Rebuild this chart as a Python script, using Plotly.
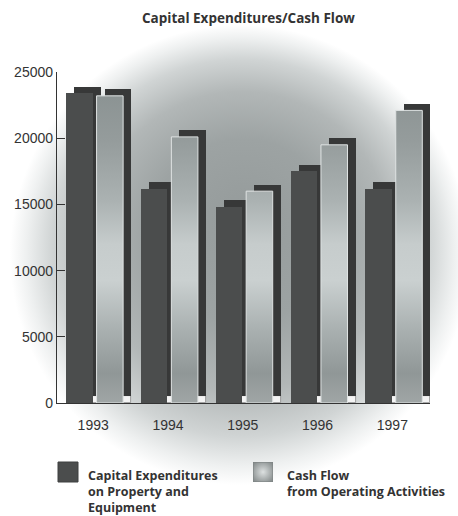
import base64
import plotly.graph_objects as go

# ---- data ----
years = ["1993", "1994", "1995", "1996", "1997"]
capex = [23400, 16200, 14800, 17500, 16200]      # Capital expenditures on property and equipment
cash_flow = [23200, 20100, 16000, 19500, 22100]  # Cash flow from operating activities
y_ticks = [0, 5000, 10000, 15000, 20000, 25000]

# ---- geometry / style ----
W, H = 458, 516
ML, MR, MT, MB = 57, 28, 72, 113
PW, PH = W - ML - MR, H - MT - MB
Y_MAX = 25000
BAR_W = 0.355
CAP_OFF = -0.362
CASH_OFF = 0.045
SH_DX = 0.107     # 3-D shadow shift to the right (category units)
SH_DY = 500       # 3-D shadow lift (value units)

CAP_COLOR = "#4b4d4d"
SHADOW_COLOR = "#373838"
TEXT = "#333333"

idx = list(range(len(years)))


def px_x(p):
    return (p - ML) / PW


def px_y(p):
    return (H - MB - p) / PH


def svg_uri(svg):
    return "data:image/svg+xml;base64," + base64.b64encode(svg.encode()).decode()


fig = go.Figure()


def add_shadow(values, off):
    # floor under the lifted shadow
    fig.add_trace(go.Bar(
        x=idx, y=[SH_DY] * len(values), base=0, width=BAR_W, offset=off + SH_DX,
        marker=dict(color="#f4f4f4", line=dict(color="#8a8a8a", width=0.8)),
        hoverinfo="skip", showlegend=False))
    # lifted dark shadow
    fig.add_trace(go.Bar(
        x=idx, y=values, base=SH_DY, width=BAR_W, offset=off + SH_DX,
        marker=dict(color=SHADOW_COLOR, line=dict(width=0)),
        hoverinfo="skip", showlegend=False))


add_shadow(capex, CAP_OFF)
fig.add_trace(go.Bar(
    x=idx, y=capex, width=BAR_W, offset=CAP_OFF,
    marker=dict(color=CAP_COLOR, line=dict(width=0)),
    name="Capital Expenditures on Property and Equipment",
    hoverinfo="skip", showlegend=False))
add_shadow(cash_flow, CASH_OFF)

# Cash-flow bars with a vertical metallic gradient (closed rectangles per year)
xs, ys = [], []
for i, v in zip(idx, cash_flow):
    x0, x1 = i + CASH_OFF, i + CASH_OFF + BAR_W
    xs += [x0, x1, x1, x0, x0, None]
    ys += [0, 0, v, v, 0, None]
fig.add_trace(go.Scatter(
    x=xs, y=ys, mode="lines", fill="toself",
    line=dict(color="#dfe3e3", width=1),
    fillgradient=dict(
        type="vertical", start=0, stop=Y_MAX,
        colorscale=[
            [0.00, "#a0a6a6"], [0.09, "#909797"], [0.22, "#a9b0b0"],
            [0.37, "#cad0d0"], [0.48, "#c6cccc"], [0.61, "#abb2b2"],
            [0.79, "#959c9c"], [1.00, "#878f8f"]]),
    name="Cash Flow from Operating Activities",
    hoverinfo="skip", showlegend=False))

# ---- soft radial backdrop ----
bg_svg = f"""<svg xmlns='http://www.w3.org/2000/svg' width='{W}' height='{H}' viewBox='0 0 {W} {H}' preserveAspectRatio='none'>
<defs><radialGradient id='g' gradientUnits='userSpaceOnUse' cx='240' cy='255' r='230' fx='245' fy='215'>
<stop offset='0' stop-color='#959b9b'/>
<stop offset='0.4' stop-color='#9da3a3'/>
<stop offset='0.65' stop-color='#b2b7b7'/>
<stop offset='0.82' stop-color='#d0d4d4'/>
<stop offset='0.93' stop-color='#eef0f0'/>
<stop offset='1' stop-color='#ffffff'/>
</radialGradient></defs>
<rect x='0' y='0' width='{W}' height='{H}' fill='url(#g)'/>
</svg>"""

swatch_svg = """<svg xmlns='http://www.w3.org/2000/svg' width='20' height='20' viewBox='0 0 20 20'>
<defs><radialGradient id='s' cx='0.5' cy='0.5' r='0.6'>
<stop offset='0' stop-color='#dde1e1'/><stop offset='1' stop-color='#8a9090'/>
</radialGradient></defs>
<rect x='0' y='0' width='20' height='20' fill='url(#s)' stroke='#7a8080' stroke-width='1'/>
</svg>"""

images = [
    dict(source=svg_uri(bg_svg), xref="paper", yref="paper",
         x=px_x(0), y=px_y(0), sizex=W / PW, sizey=H / PH,
         sizing="stretch", layer="below", xanchor="left", yanchor="top"),
    dict(source=svg_uri(swatch_svg), xref="paper", yref="paper",
         x=px_x(253), y=px_y(462), sizex=20 / PW, sizey=20 / PH,
         sizing="stretch", layer="above", xanchor="left", yanchor="top"),
]

shapes = [
    dict(type="rect", xref="paper", yref="paper",
         x0=px_x(58), x1=px_x(78), y0=px_y(482), y1=px_y(462),
         fillcolor=CAP_COLOR, line=dict(color="#3e4040", width=1)),
]

title_font = dict(family="Open Sans", size=13.5, color=TEXT, weight=700)
legend_font = dict(family="Open Sans", size=12.5, color=TEXT, weight=700)


def legend_lines(lines, x_px, y_centers):
    return [dict(text=t, xref="paper", yref="paper", x=px_x(x_px), y=px_y(yc),
                 xanchor="left", yanchor="middle", borderpad=0,
                 showarrow=False, font=legend_font)
            for t, yc in zip(lines, y_centers)]


annotations = [
    dict(text="Capital Expenditures/Cash Flow", xref="paper", yref="paper",
         x=px_x(248), y=px_y(18), xanchor="center", yanchor="middle",
         showarrow=False, font=title_font),
]
annotations += legend_lines(["Capital Expenditures", "on Property and", "Equipment"],
                            87, [475.5, 491.8, 507.6])
annotations += legend_lines(["Cash Flow", "from Operating Activities"],
                            286, [475.5, 491.8])

tick_font = dict(family="Liberation Sans", size=14, color=TEXT)

fig.update_layout(
    width=W, height=H,
    margin=dict(l=ML, r=MR, t=MT, b=MB, autoexpand=False),
    paper_bgcolor="white", plot_bgcolor="rgba(0,0,0,0)",
    barmode="overlay", bargap=0,
    showlegend=False,
    images=images, shapes=shapes, annotations=annotations,
    xaxis=dict(
        range=[-0.484, 4.503], tickmode="array", tickvals=idx, ticktext=years,
        showline=True, linecolor=TEXT, linewidth=1.3, ticks="",
        ticklabelstandoff=9,
        showgrid=False, zeroline=False, tickfont=tick_font, fixedrange=True),
    yaxis=dict(
        range=[0, Y_MAX], tickmode="array", tickvals=y_ticks,
        ticktext=[str(t) for t in y_ticks],
        showline=True, linecolor=TEXT, linewidth=1.3,
        ticks="inside", ticklen=8, tickwidth=1.3, tickcolor=TEXT,
        showgrid=False, zeroline=False, tickfont=tick_font, fixedrange=True),
)

fig.write_html("out.html", config={"displayModeBar": False})
